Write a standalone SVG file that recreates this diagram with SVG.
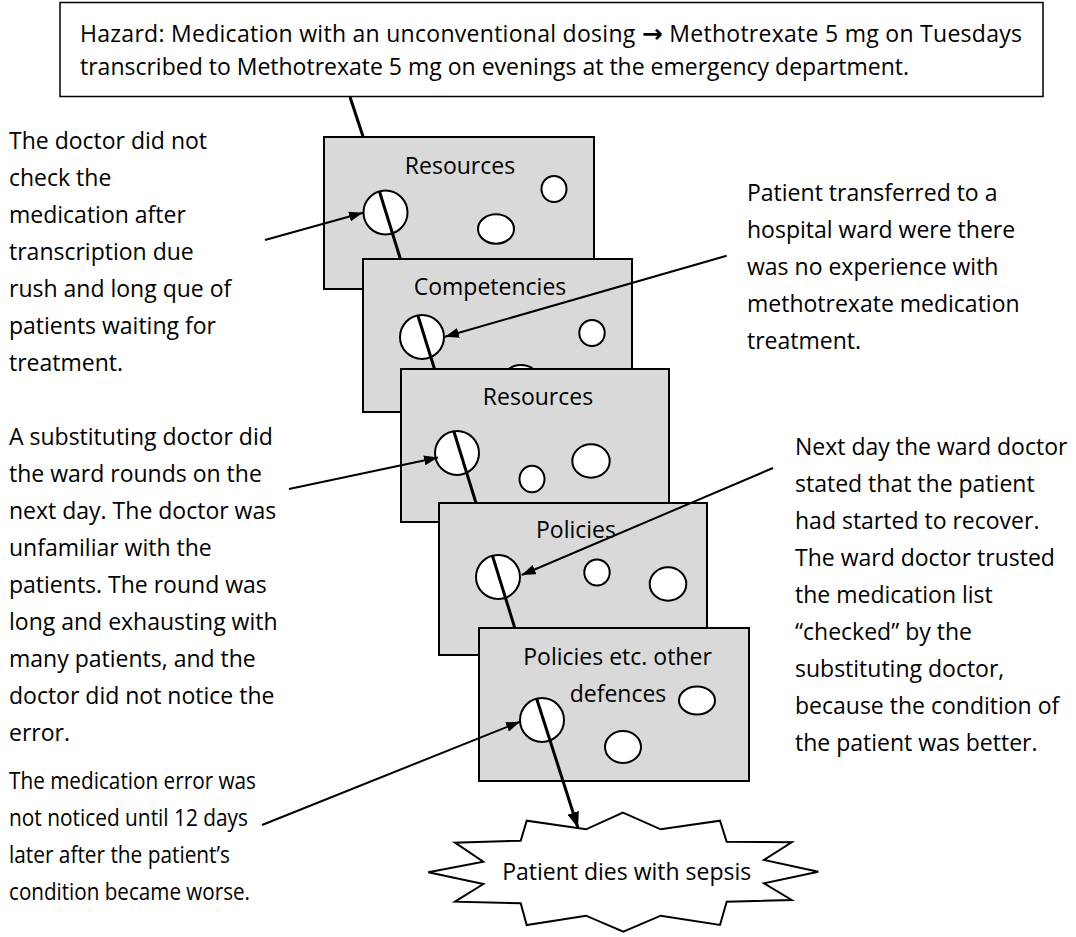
<svg xmlns="http://www.w3.org/2000/svg" width="1076" height="937" viewBox="0 0 1076 937">
<defs>
<style>
text{font-family:"Open Sans","Noto Sans","DejaVu Sans",sans-serif;font-size:23px;fill:#000}
.slice{fill:#d9d9d9;stroke:#000;stroke-width:2}
.hole{fill:#fff;stroke:#000;stroke-width:2}
.mid{text-anchor:middle}
.arr{stroke:#000;stroke-width:2;fill:none;marker-end:url(#ah)}
.thru{stroke:#000;stroke-width:3;fill:none}
</style>
<marker id="ah" viewBox="0 0 14 10" refX="14" refY="5" markerWidth="14" markerHeight="10" orient="auto" markerUnits="userSpaceOnUse"><path d="M0,0 L14,5 L0,10 z" fill="#000"/></marker>
<marker id="ah2" viewBox="0 0 16 12" refX="16" refY="6" markerWidth="16" markerHeight="12" orient="auto" markerUnits="userSpaceOnUse"><path d="M0,0 L16,6 L0,12 z" fill="#000"/></marker>
</defs>
<rect width="1076" height="937" fill="#fff"/>
<g id="hazard">
<rect x="60" y="2.5" width="983" height="94" fill="#fff" stroke="#000" stroke-width="1.5"/>
<text x="80" y="42" textLength="942" lengthAdjust="spacing">Hazard: Medication with an unconventional dosing <tspan font-family="DejaVu Sans" font-weight="bold" font-size="25">→</tspan> Methotrexate 5 mg on Tuesdays</text>
<text x="80" y="75">transcribed to Methotrexate 5 mg on evenings at the emergency department.</text>
</g>
<g id="slice1">
<rect class="slice" x="324" y="137" width="270" height="152"/>
<circle class="hole" cx="385.5" cy="212.5" r="22"/>
<ellipse class="hole" cx="554" cy="189" rx="12.5" ry="13"/>
<ellipse class="hole" cx="496" cy="229" rx="18" ry="14.7"/>
<text class="mid" x="460" y="174">Resources</text>
</g>
<g id="slice2">
<rect class="slice" x="363" y="259" width="269" height="153"/>
<circle class="hole" cx="422" cy="337" r="22"/>
<ellipse class="hole" cx="592" cy="333" rx="12.7" ry="13"/>
<ellipse class="hole" cx="521" cy="380" rx="18" ry="15"/>
<text class="mid" x="490" y="295">Competencies</text>
</g>
<g id="slice3">
<rect class="slice" x="401" y="369" width="268" height="153"/>
<circle class="hole" cx="457" cy="453" r="22"/>
<ellipse class="hole" cx="532" cy="479" rx="12.5" ry="13.3"/>
<ellipse class="hole" cx="591" cy="461" rx="18.7" ry="16.7"/>
<text class="mid" x="538" y="405">Resources</text>
</g>
<g id="slice4">
<rect class="slice" x="439" y="503" width="268" height="152"/>
<circle class="hole" cx="498" cy="577" r="22"/>
<ellipse class="hole" cx="597" cy="572.5" rx="12.7" ry="13"/>
<ellipse class="hole" cx="668" cy="584" rx="18.3" ry="16.7"/>
<text class="mid" x="576" y="538">Policies</text>
</g>
<g id="slice5">
<rect class="slice" x="479" y="628" width="270" height="153"/>
<circle class="hole" cx="542" cy="720" r="22"/>
<ellipse class="hole" cx="697" cy="700.5" rx="18" ry="14"/>
<ellipse class="hole" cx="623" cy="747" rx="18" ry="16"/>
<text class="mid" x="617.5" y="665">Policies etc. other</text>
<text class="mid" x="618" y="702">defences</text>
</g>
<g id="outcome">
<polygon points="623,812.7 660.7,829.3 720,820.7 726.7,841.7 791.7,842.3 764,860 818.3,871.7 764,883.3 791.7,900 726.7,901.7 720,925 660.7,915.7 623.3,931.7 586,915.7 526.7,925 520.7,903.3 455,901.7 483.3,884 428.3,872.3 483.3,861.7 455,842.7 520.7,840.7 526.7,820.7 586,829.3" fill="#fff" stroke="#000" stroke-width="2" stroke-linejoin="miter"/>
<text class="mid" x="626.7" y="880">Patient dies with sepsis</text>
</g>
<g id="note-left-1">
<text x="9" y="149">The doctor did not</text>
<text x="9" y="186">check the</text>
<text x="9" y="223">medication after</text>
<text x="9" y="260">transcription due</text>
<text x="9" y="297">rush and long que of</text>
<text x="9" y="334">patients waiting for</text>
<text x="9" y="371">treatment.</text>
</g>
<g id="note-left-2">
<text x="9" y="445">A substituting doctor did</text>
<text x="9" y="482">the ward rounds on the</text>
<text x="9" y="519">next day. The doctor was</text>
<text x="9" y="556">unfamiliar with the</text>
<text x="9" y="593">patients. The round was</text>
<text x="9" y="630">long and exhausting with</text>
<text x="9" y="667">many patients, and the</text>
<text x="9" y="704">doctor did not notice the</text>
<text x="9" y="741">error.</text>
</g>
<g id="note-left-3">
<text x="9" y="789" textLength="247" lengthAdjust="spacingAndGlyphs">The medication error was</text>
<text x="9" y="826" textLength="239" lengthAdjust="spacingAndGlyphs">not noticed until 12 days</text>
<text x="9" y="863" textLength="221" lengthAdjust="spacingAndGlyphs">later after the patient’s</text>
<text x="9" y="900" textLength="241" lengthAdjust="spacingAndGlyphs">condition became worse.</text>
</g>
<g id="note-right-1">
<text x="747" y="201">Patient transferred to a</text>
<text x="747" y="238">hospital ward were there</text>
<text x="747" y="275">was no experience with</text>
<text x="747" y="312">methotrexate medication</text>
<text x="747" y="349">treatment.</text>
</g>
<g id="note-right-2">
<text x="795" y="455">Next day the ward doctor</text>
<text x="795" y="492">stated that the patient</text>
<text x="795" y="529">had started to recover.</text>
<text x="795" y="566">The ward doctor trusted</text>
<text x="795" y="603">the medication list</text>
<text x="795" y="640">“checked” by the</text>
<text x="795" y="677">substituting doctor,</text>
<text x="795" y="714">because the condition of</text>
<text x="795" y="751">the patient was better.</text>
</g>
<g id="connectors">
<line class="thru" x1="350" y1="97" x2="363.2" y2="137"/>
<line class="thru" x1="379.5" y1="191.5" x2="400.4" y2="259"/>
<line class="thru" x1="417.9" y1="315.5" x2="434.5" y2="369"/>
<line class="thru" x1="453.8" y1="431.3" x2="476" y2="503"/>
<line class="thru" x1="492.4" y1="555.5" x2="514.8" y2="628"/>
<line class="thru" x1="536.6" y1="698.5" x2="578" y2="828" marker-end="url(#ah2)"/>
<line class="arr" x1="265" y1="240" x2="363" y2="212.7"/>
<line class="arr" x1="726.7" y1="255.7" x2="445" y2="336.7"/>
<line class="arr" x1="289" y1="489" x2="438" y2="457.5"/>
<line class="arr" x1="773" y1="468" x2="521.7" y2="575"/>
<line class="arr" x1="262" y1="825" x2="520" y2="721.7"/>
</g>
</svg>
